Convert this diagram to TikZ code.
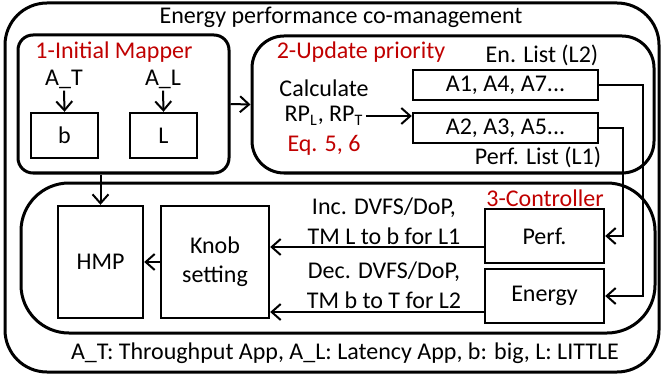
\documentclass[tikz,border=0pt]{standalone}
\usepackage{fontspec}
\setmainfont{Carlito}
\usetikzlibrary{arrows.meta,positioning,calc}
\definecolor{ttlred}{RGB}{192,0,0}

\begin{document}
\begin{tikzpicture}[x=0.5pt, y=-0.5pt,
  grp/.style={rectangle, draw, line width=1.5pt, inner sep=0pt},
  blk/.style={rectangle, draw, line width=1.2pt, inner sep=0pt,
    align=center, font={\fontsize{12}{14.5}\selectfont}},
  arr/.style={-{Straight Barb[length=4.5pt,width=8pt]}, line width=1pt},
  lbl/.style={inner sep=1pt, align=center,
    font={\fontsize{12}{15}\selectfont}},
  ttl/.style={lbl, text=ttlred},
]
\useasboundingbox (0,0) rectangle (662,379);

\node[grp, rounded corners=21pt, minimum width=327pt,
  minimum height=184.5pt] (outer) at (332,187.5) {};
\node[lbl] (title) at (341,17) {Energy performance co-management};

% 1 - initial mapper
\node[grp, rounded corners=7.5pt, minimum width=105.5pt,
  minimum height=69pt] (mapper) at (123.5,104) {};
\node[ttl] (mapttl) at (114,52) {1-Initial Mapper};
\node[lbl] (at) at (64,79) {A\_T};
\node[lbl] (al) at (163,79) {A\_L};
\node[blk, minimum width=33.5pt, minimum height=22.5pt] (big)
  at (64.5,135.5) {b};
\node[blk, minimum width=33.5pt, minimum height=22.5pt] (little)
  at (163.5,135.5) {L};
\draw[arr] (at.south) -- (big.north);
\draw[arr] (al.south) -- (little.north);

% 2 - update priority
\node[grp, rounded corners=16pt, minimum width=201pt,
  minimum height=68.5pt] (update) at (453,104.5) {};
\node[ttl] (updttl) at (361,52) {2-Update priority};
\node[lbl] (calc) at (324,88) {Calculate};
\node[lbl] (rp) at (324,116) {RP\textsubscript{L}, RP\textsubscript{T}};
\node[ttl] (eq) at (324,145) {Eq. 5, 6};
\node[blk, minimum width=92.5pt, minimum height=15pt] (lsttwo)
  at (505.5,85) {A1, A4, A7...};
\node[blk, minimum width=92.5pt, minimum height=15pt] (lstone)
  at (505.5,128) {A2, A3, A5...};
\node[lbl] (enlbl) at (542,55) {En. List (L2)};
\node[lbl] (pflbl) at (538,157) {Perf. List (L1)};
\draw[arr] (mapper.east) -- (update.west);
\draw[arr] (rp.east) -- (rp.east -| lstone.west);

% 3 - controller
\node[grp, rounded corners=24pt, minimum width=317pt,
  minimum height=75pt] (ctrl) at (338,258) {};
\node[ttl] (ctrlttl) at (545,198) {3-Controller};
\node[blk, minimum width=59.5pt, minimum height=27pt] (perf)
  at (544.5,236) {Perf.};
\node[blk, minimum width=59.5pt, minimum height=27pt] (energy)
  at (544.5,296) {Energy};
\node[blk, minimum width=42.5pt, minimum height=56pt] (hmp)
  at (100.5,262) {HMP};
\node[blk, minimum width=54pt, minimum height=56pt] (knob)
  at (215,262) {Knob\\setting};
\node[lbl] (inc) at (384,221) {Inc. DVFS/DoP,\\TM L to b for L1};
\node[lbl] (dec) at (384,285) {Dec. DVFS/DoP,\\TM b to T for L2};

\coordinate (pfin) at ($(perf.west)+(0,11)$);
\coordinate (enin) at ($(energy.west)+(0,16)$);
\draw[arr] (pfin) -- (pfin -| knob.east);
\draw[arr] (enin) -- (enin -| knob.east);
\draw[arr] (knob.west) -- (hmp.east);
\draw[arr] (mapper.south -| hmp.north) -- (hmp.north);

% lists to controller
\coordinate (twoR) at (643,85);
\coordinate (oneR) at (623,128);
\draw[arr] (lsttwo.east) -- (twoR) |- (energy.east);
\draw[arr] (lstone.east) -- (oneR) |- (perf.east);

\node[lbl] (legend) at (345,353)
  {A\_T: Throughput App, A\_L: Latency App, b: big, L: LITTLE};
\end{tikzpicture}
\end{document}
